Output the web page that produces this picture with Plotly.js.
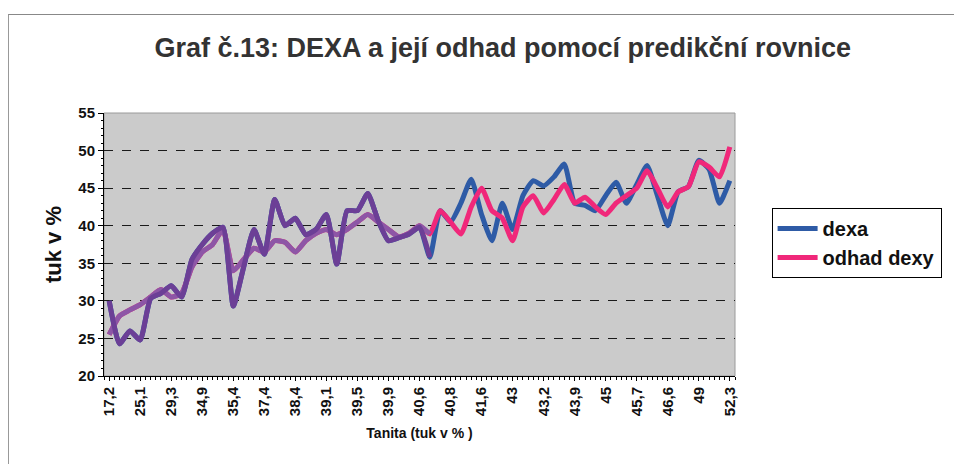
<!DOCTYPE html>
<html>
<head>
<meta charset="utf-8">
<script src="https://cdn.plot.ly/plotly-3.0.1.min.js"></script>
<style>
  html, body { margin: 0; padding: 0; background: #fff; }
  #wrap { position: relative; width: 954px; height: 464px; overflow: hidden; }
  #chart { position: absolute; left: 0; top: 0; width: 954px; height: 464px; }
  #frame { position: absolute; left: 8px; top: 14px; width: 980px; height: 520px;
           border-top: 1px solid #888; border-left: 1px solid #999; pointer-events: none; }
</style>
</head>
<body>
<div id="wrap">
  <div id="chart"></div>
  <div id="frame"></div>
</div>
<script>
// Tick labels shown on the x axis (Tanita, tuk v %) - every 3rd point is labelled
const tanitaLabels = ['17,2','25,1','29,3','34,9','35,4','37,4','38,4','39,1','39,5','39,9',
                      '40,6','40,8','41,6','43','43,2','43,9','45','45,7','46,6','49','52,3'];

// DEXA values (tuk v %)
const dexa = [30, 24.3, 26, 24.8, 30.3, 31, 32, 30.5, 35.5, 37.5,
              39, 39.8, 29.3, 34.5, 39.5, 36.2, 43.5, 40, 41, 38.8,
              39.5, 41.5, 34.9, 42, 42, 44.3, 40.7, 38, 38.4, 38.9,
              39.8, 35.8, 42, 40.5, 43, 46.2, 41.5, 38, 43, 39.5,
              44, 46, 45.3, 46.5, 48.2, 43, 42.7, 42, 44, 45.8,
              43, 45.5, 48, 44, 40, 44.5, 45.2, 48.7, 47.5, 43, 46];

// Odhad dexy (prediction)
const odhad = [25.5, 28, 28.8, 29.5, 30.5, 31.5, 30.5, 31, 34.5, 36.5,
               37.5, 39.5, 34, 35.5, 37, 36.5, 38, 37.8, 36.5, 38,
               39, 39.5, 38.8, 39.5, 40.5, 41.5, 40.5, 39.5, 38.5, 39,
               40, 38.9, 42, 40.5, 38.9, 42.5, 45, 42, 41, 38,
               42.5, 44, 41.7, 43.5, 45.5, 43, 43.8, 42.5, 41.5, 43,
               44, 45, 47.3, 45, 42.5, 44.5, 45.2, 48.5, 47.8, 46.5, 50.5];

const labelStep = 3;
const idx = dexa.map((_, i) => i);
const tickvals = tanitaLabels.map((_, k) => k * labelStep);

// the scanned picture shows the left part of both lines in purple
const purpleEnd = 31;
const mask = arr => arr.map((v, i) => (i <= purpleEnd ? v : null));

const common = { type: 'scatter', mode: 'lines', x: idx, hoverinfo: 'skip' };
const traces = [
  Object.assign({}, common, { y: dexa, name: 'dexa',
    line: { color: '#2e5ba6', width: 5, shape: 'spline', smoothing: 0.5 } }),
  Object.assign({}, common, { y: odhad, name: 'odhad dexy',
    line: { color: '#f0287a', width: 5, shape: 'spline', smoothing: 0.5 } }),
  Object.assign({}, common, { y: mask(odhad), showlegend: false,
    line: { color: '#8d56a6', width: 5, shape: 'spline', smoothing: 0.5 } }),
  Object.assign({}, common, { y: mask(dexa), showlegend: false,
    line: { color: '#6c3f96', width: 5, shape: 'spline', smoothing: 0.5 } })
];

const layout = {
  width: 954, height: 464,
  margin: { l: 104, r: 212, t: 113, b: 88 },
  paper_bgcolor: 'rgba(0,0,0,0)',
  plot_bgcolor: '#cbcbcb',
  font: { family: 'Liberation Sans, Arial, sans-serif', color: '#111' },
  showlegend: true,
  title: {
    text: 'Graf č.13: DEXA a její odhad pomocí predikční rovnice',
    font: { size: 27, color: '#333', weight: 'bold' },
    x: 0.527, xref: 'container', xanchor: 'center',
    y: 0.898, yref: 'container', yanchor: 'middle'
  },
  xaxis: {
    range: [-0.5, dexa.length - 0.5],
    tickmode: 'array', tickvals: tickvals, ticktext: tanitaLabels,
    tickangle: -90,
    tickfont: { size: 15, weight: 'bold', color: '#111' },
    ticks: 'outside', ticklen: 4, tickcolor: '#000',
    minor: { tickmode: 'linear', tick0: -0.5, dtick: 0.5, ticks: 'outside', ticklen: 3, tickcolor: '#000' },
    showline: true, linecolor: '#000', linewidth: 1,
    showgrid: false, zeroline: false,
    title: { text: 'Tanita (tuk v % )', font: { size: 14, weight: 'bold', color: '#111' }, standoff: 12 },
    automargin: false
  },
  yaxis: {
    range: [20, 55], tick0: 20, dtick: 5,
    tickfont: { size: 15, weight: 'bold', color: '#111' },
    ticks: 'outside', ticklen: 5, tickcolor: '#000',
    minor: { dtick: 1, ticks: 'outside', ticklen: 2, tickcolor: '#000' },
    showline: true, linecolor: '#000', linewidth: 1,
    gridcolor: '#1a1a1a', griddash: 'dash', gridwidth: 1,
    zeroline: false,
    title: { text: 'tuk v %', font: { size: 22, weight: 'bold', color: '#111' }, standoff: 10 },
    automargin: false
  },
  legend: {
    x: 1.058, xanchor: 'left', y: 0.639, yanchor: 'top',
    bgcolor: '#ffffff', bordercolor: '#000', borderwidth: 1,
    font: { size: 20, weight: 'bold', color: '#111' },
    itemwidth: 40, tracegroupgap: 4
  },
  shapes: [
    { type: 'rect', xref: 'paper', yref: 'paper', x0: 0, x1: 1, y0: 0, y1: 1,
      line: { color: '#9a9a9a', width: 1 }, layer: 'below' }
  ]
};

Plotly.newPlot('chart', traces, layout, { staticPlot: true, displayModeBar: false });
</script>
</body>
</html>
